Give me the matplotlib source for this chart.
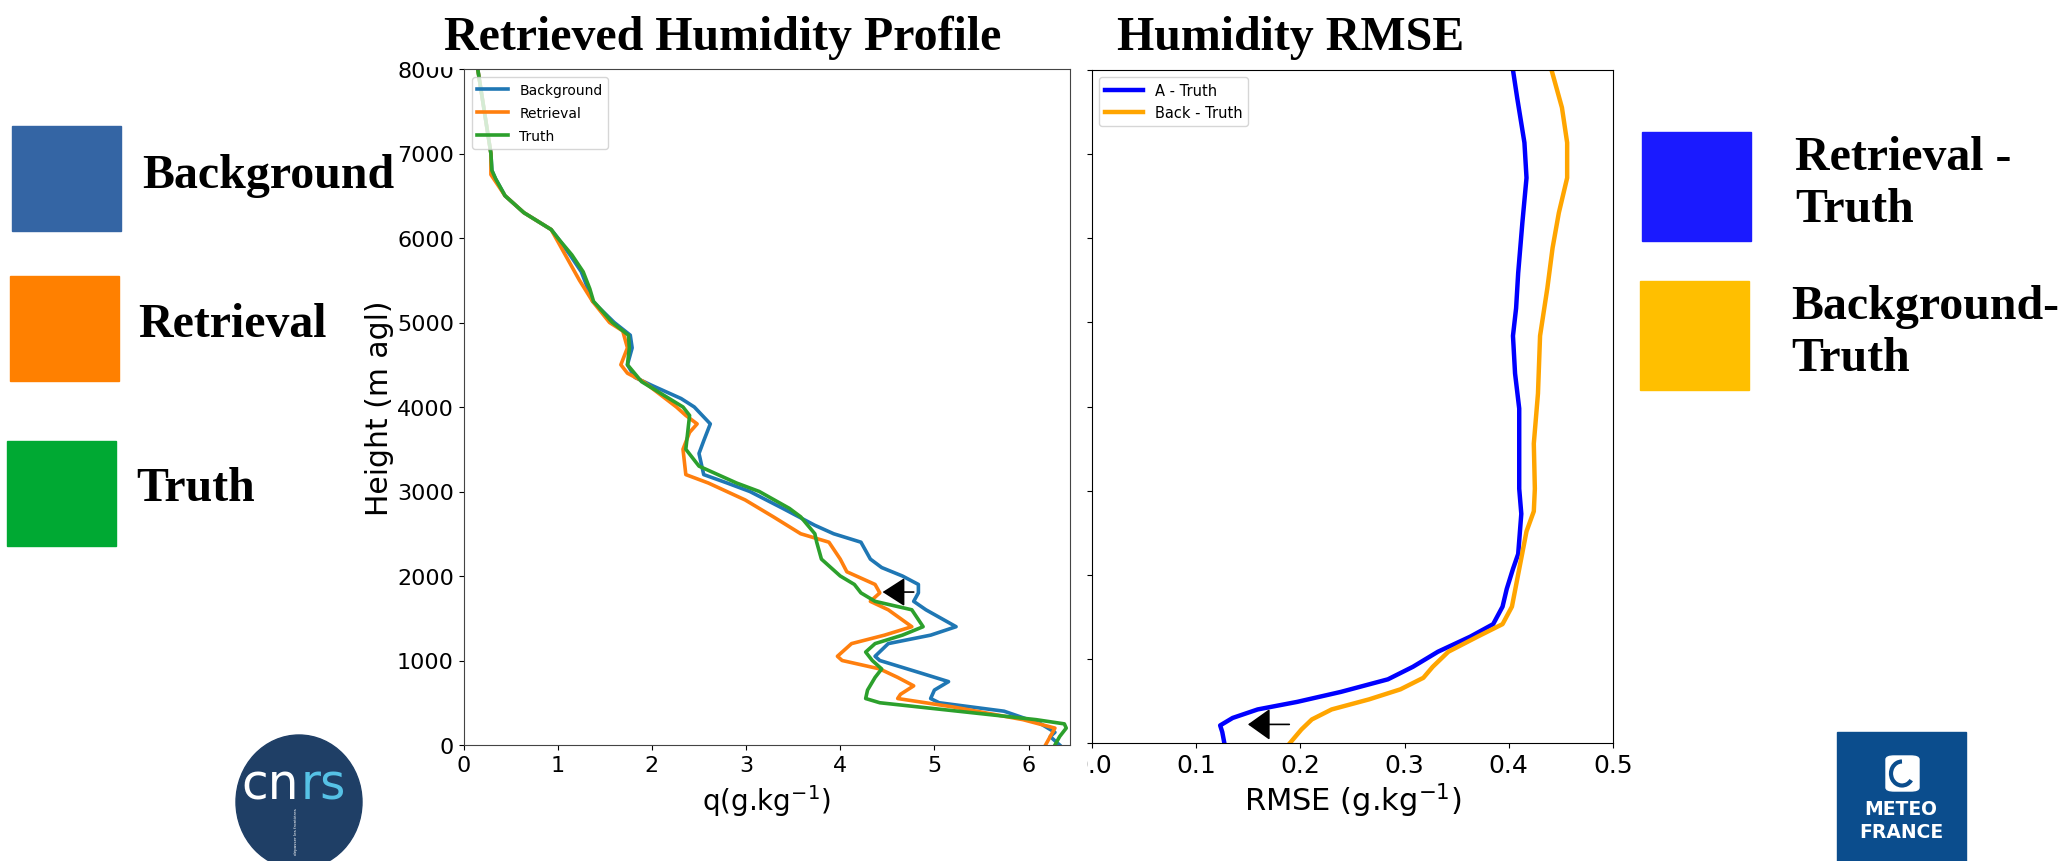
import numpy as np
import matplotlib
matplotlib.use("Agg")
import matplotlib.pyplot as plt
from matplotlib.patches import Rectangle, Ellipse, FancyBboxPatch, Arc

# --- profile data (q in g/kg, height in m agl) ---
h_back = [8000, 7500, 7000, 6800, 6700, 6500, 6300, 6100, 6000, 5800, 5600, 5400, 5250, 5000,
          4850, 4700, 4500, 4350, 4250, 4100, 4000, 3800, 3600, 3450, 3300, 3200, 3100, 3000,
          2800, 2600, 2500, 2400, 2200, 2100, 2000, 1900, 1800, 1700, 1600, 1400, 1300, 1200,
          1050, 1000, 850, 750, 650, 550, 500, 400, 250, 150, 100, 0]
q_back = [0.15, 0.22, 0.29, 0.30, 0.34, 0.44, 0.64, 0.93, 1.00, 1.13, 1.25, 1.32, 1.37, 1.60,
          1.77, 1.79, 1.74, 1.82, 2.01, 2.31, 2.45, 2.62, 2.55, 2.50, 2.53, 2.55, 2.80, 3.04,
          3.39, 3.73, 3.93, 4.22, 4.32, 4.44, 4.66, 4.83, 4.83, 4.78, 4.91, 5.23, 4.96, 4.51,
          4.37, 4.42, 4.86, 5.15, 5.00, 4.96, 5.05, 5.74, 6.13, 6.28, 6.23, 6.33]

h_retr = [8000, 7500, 7000, 6750, 6500, 6300, 6100, 5900, 5500, 5250, 5000, 4900, 4700, 4500,
          4400, 4300, 4000, 3900, 3800, 3700, 3500, 3200, 3100, 2900, 2700, 2500, 2400, 2200,
          2050, 1950, 1900, 1800, 1700, 1600, 1400, 1300, 1200, 1050, 1000, 900, 800, 700,
          600, 550, 450, 300, 200, 100, 0]
q_retr = [0.15, 0.22, 0.29, 0.29, 0.44, 0.64, 0.93, 1.03, 1.23, 1.37, 1.55, 1.69, 1.74, 1.67,
          1.74, 1.91, 2.26, 2.36, 2.48, 2.40, 2.33, 2.36, 2.60, 2.99, 3.29, 3.58, 3.88, 4.00,
          4.07, 4.27, 4.37, 4.42, 4.32, 4.51, 4.76, 4.47, 4.12, 3.97, 4.02, 4.42, 4.61, 4.78,
          4.64, 4.61, 5.20, 5.94, 6.28, 6.23, 6.18]

h_truth = [8000, 7500, 7000, 6800, 6700, 6500, 6300, 6100, 6000, 5800, 5600, 5400, 5250, 5000,
           4850, 4700, 4500, 4300, 4000, 3900, 3700, 3500, 3300, 3200, 3100, 3000, 2800, 2700,
           2500, 2400, 2200, 2000, 1900, 1800, 1700, 1600, 1400, 1300, 1200, 1100, 1000, 900,
           800, 650, 550, 500, 400, 300, 250, 200, 100, 0]
q_truth = [0.15, 0.22, 0.29, 0.30, 0.34, 0.44, 0.64, 0.93, 1.00, 1.15, 1.27, 1.34, 1.38, 1.58,
           1.75, 1.76, 1.74, 1.89, 2.33, 2.40, 2.38, 2.36, 2.50, 2.70, 2.90, 3.14, 3.46, 3.58,
           3.73, 3.75, 3.80, 4.00, 4.15, 4.22, 4.37, 4.76, 4.88, 4.66, 4.37, 4.27, 4.34, 4.44,
           4.37, 4.29, 4.27, 4.42, 5.25, 6.08, 6.38, 6.40, 6.33, 6.28]

# --- RMSE data ---
h_rmse_a = [8000, 7672, 7136, 6718, 6182, 5586, 5168, 4840, 4393, 3976, 3499, 3022, 2724, 2247,
            2069, 1830, 1621, 1413, 1264, 1085, 906, 757, 608, 489, 399, 298, 209, 131, 0]
rmse_a = [0.404, 0.408, 0.415, 0.417, 0.413, 0.409, 0.407, 0.404, 0.406, 0.410, 0.410, 0.410,
          0.412, 0.409, 0.404, 0.398, 0.394, 0.385, 0.363, 0.332, 0.308, 0.284, 0.239, 0.197,
          0.159, 0.135, 0.123, 0.125, 0.127]

h_rmse_b = [8000, 7553, 7136, 6718, 6301, 5884, 5407, 4840, 4155, 3559, 3022, 2754, 2516, 2069,
            1621, 1413, 1264, 1085, 906, 775, 638, 519, 399, 280, 161, 0]
rmse_b = [0.441, 0.451, 0.456, 0.456, 0.448, 0.442, 0.437, 0.430, 0.428, 0.424, 0.425, 0.424,
          0.417, 0.410, 0.403, 0.394, 0.370, 0.342, 0.327, 0.318, 0.296, 0.266, 0.230, 0.211,
          0.201, 0.190]

W, H = 2071, 862
fig = plt.figure(figsize=(W / 100, H / 100), dpi=100)

def fx(px):
    return px / W

def fy(py):
    return 1 - py / H

serif = "Liberation Serif"
big = 34.5

# left panel
ax1 = fig.add_axes([fx(463.6), fy(746), fx(1070 - 463.6), (746 - 70) / H])
ax1.plot(q_back, h_back, color="C0", lw=2.6, label="Background")
ax1.plot(q_retr, h_retr, color="C1", lw=2.6, label="Retrieval")
ax1.plot(q_truth, h_truth, color="C2", lw=2.6, label="Truth")
ax1.set_xlim(0, 6.44)
ax1.set_ylim(0, 8000)
ax1.set_xticks(range(7))
ax1.set_yticks(range(0, 8001, 1000))
ax1.tick_params(labelsize=16)
ax1.set_xlabel("q(g.kg$^{-1}$)", fontsize=20, labelpad=5)
ax1.set_ylabel("Height (m agl)", fontsize=21.5, labelpad=2)
for s in ax1.spines.values():
    s.set_color("#444444")
ax1.legend(loc="upper left", fontsize=10, handlelength=2.2, labelspacing=0.65,
           borderaxespad=0.6)
ax1.annotate("", xy=(4.42, 1810), xytext=(4.81, 1810),
             arrowprops=dict(arrowstyle="-|>,head_length=0.7,head_width=0.45",
                             mutation_scale=20, color="black", lw=1.2))

# right panel
ax2 = fig.add_axes([fx(1092), fy(744), fx(1613 - 1092), (744 - 71) / H])
ax2.plot(rmse_a, h_rmse_a, color="blue", lw=3.2, label="A - Truth")
ax2.plot(rmse_b, h_rmse_b, color="orange", lw=3.2, label="Back - Truth")
ax2.set_xlim(0, 0.5)
ax2.set_ylim(0, 8000)
ax2.set_xticks([0.0, 0.1, 0.2, 0.3, 0.4, 0.5])
ax2.set_xticklabels(["0.0", "0.1", "0.2", "0.3", "0.4", "0.5"])
ax2.set_yticks(range(0, 8001, 1000))
ax2.set_yticklabels([])
ax2.tick_params(labelsize=18)
ax2.set_xlabel("RMSE (g.kg$^{-1}$)", fontsize=22, labelpad=3)
ax2.legend(loc="upper left", fontsize=10.5, handlelength=2.6, borderaxespad=0.5)
ax2.annotate("", xy=(0.147, 221), xytext=(0.192, 221),
             arrowprops=dict(arrowstyle="-|>,head_length=0.7,head_width=0.5",
                             mutation_scale=20, color="black", lw=1.2))

# masks that clip the pasted panels
fig.add_artist(Rectangle((fx(1071), fy(800)), fx(1086 - 1071), (800 - 748) / H,
                         transform=fig.transFigure, color="white", zorder=2.5))
fig.add_artist(Rectangle((fx(426), fy(67)), fx(460 - 426), 67 / H,
                         transform=fig.transFigure, color="white", zorder=2.5))

# titles
fig.text(fx(444), fy(50), "Retrieved Humidity Profile", fontsize=big, fontweight="bold",
         family=serif, va="baseline", zorder=4)
fig.text(fx(1117), fy(50), "Humidity RMSE", fontsize=big, fontweight="bold",
         family=serif, va="baseline", zorder=4)

# left colour key
key_left = [("#3465A4", "Background", 12, 127, 142, 188),
            ("#FF8000", "Retrieval", 10, 277, 138, 337),
            ("#00A933", "Truth", 7, 442, 136, 501)]
for col, lab, x0, y0, tx, ty in key_left:
    fig.add_artist(Rectangle((fx(x0), fy(y0 + 105)), fx(109), 105 / H,
                             transform=fig.transFigure, color=col))
    fig.text(fx(tx), fy(ty), lab, fontsize=big, fontweight="bold", family=serif, va="baseline")

# right colour key
key_right = [("#1A1AFF", ["Retrieval -", "Truth"], 1642, 133, 1795, 170),
             ("#FFBF00", ["Background-", "Truth"], 1640, 282, 1791, 319)]
for col, lines, x0, y0, tx, ty in key_right:
    fig.add_artist(Rectangle((fx(x0), fy(y0 + 109)), fx(109), 109 / H,
                             transform=fig.transFigure, color=col))
    for i, ln in enumerate(lines):
        fig.text(fx(tx), fy(ty + 52 * i), ln, fontsize=big, fontweight="bold",
                 family=serif, va="baseline")

# CNRS logo
fig.add_artist(Ellipse((fx(299), fy(803)), fx(126), 134 / H, transform=fig.transFigure,
                       color="#1F3F66"))
fig.text(fx(299), fy(786), "cn", fontsize=35, color="white", ha="right", va="center",
         family="DejaVu Sans")
fig.text(fx(301), fy(786), "rs", fontsize=35, color="#56C2E6", ha="left", va="center",
         family="DejaVu Sans")
fig.text(fx(296), fy(808), "dépasser les frontières", fontsize=3, color="white",
         rotation=90, ha="center", va="top")

# Meteo-France logo
fig.add_artist(Rectangle((fx(1837), 0), fx(129), 129 / H, transform=fig.transFigure,
                         color="#0B4D8D"))
fig.add_artist(FancyBboxPatch((fx(1886), fy(792)), fx(33), 35 / H,
                              boxstyle="round,pad=0,rounding_size=0.004",
                              transform=fig.transFigure, color="white"))
fig.add_artist(Arc((fx(1902), fy(774.5)), fx(22), 24 / H, theta1=90, theta2=300,
                   transform=fig.transFigure, color="#0B4D8D", lw=3))
fig.text(fx(1901), fy(810), "METEO", fontsize=13.5, fontweight="bold", color="white",
         ha="center", va="center", family="DejaVu Sans")
fig.text(fx(1901), fy(833), "FRANCE", fontsize=13.5, fontweight="bold", color="white",
         ha="center", va="center", family="DejaVu Sans")

fig.savefig("out.png", dpi=100)
